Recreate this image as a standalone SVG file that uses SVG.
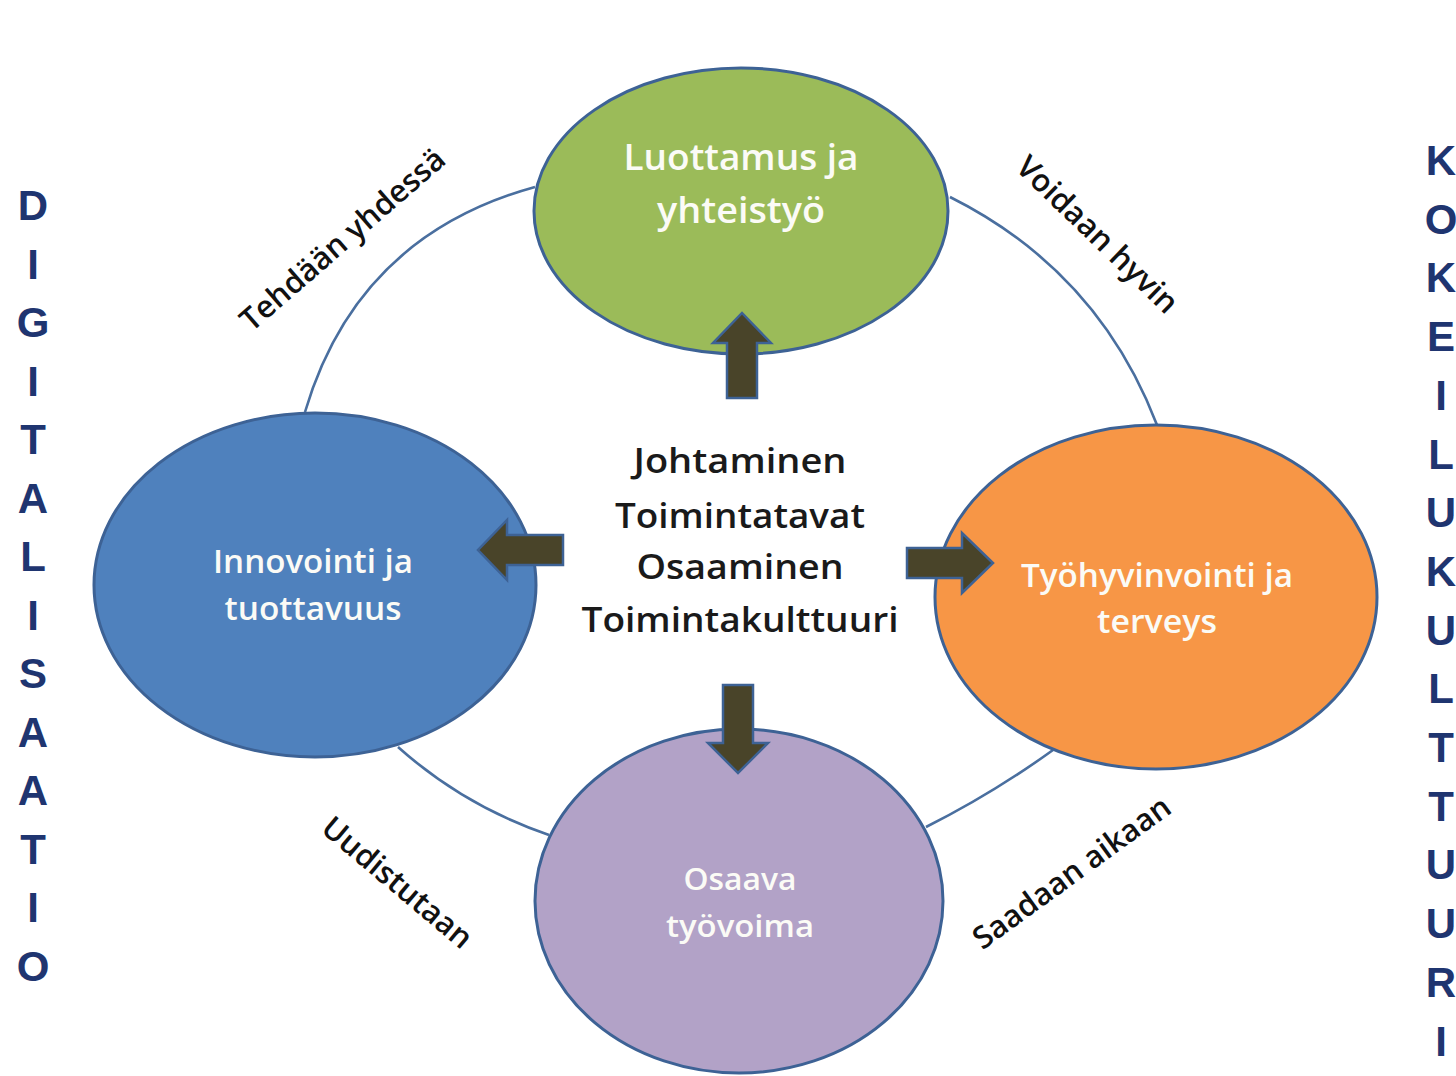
<svg xmlns="http://www.w3.org/2000/svg" width="1456" height="1076" viewBox="0 0 1456 1076">
<style>
.node ellipse{stroke:#3d6295;stroke-width:3}
.nt{font-family:"Open Sans","Liberation Sans",sans-serif;font-weight:600;fill:#fbfbf6;text-anchor:middle}
.ct{font-family:"Open Sans","Liberation Sans",sans-serif;font-weight:600;fill:#1a1a1a;text-anchor:middle;font-size:34px}
.lbl{font-family:"Open Sans","Liberation Sans",sans-serif;font-weight:600;fill:#111;text-anchor:middle;font-size:31px}
.arc{fill:none;stroke:#4a6f9f;stroke-width:2.6}
.arr{fill:#494429;stroke:#3d6295;stroke-width:2.5;stroke-linejoin:miter}
.side{font-family:"Liberation Sans",Arial,sans-serif;font-weight:700;fill:#1f3570;font-size:42px;text-anchor:middle}
</style>
<rect width="1456" height="1076" fill="#ffffff"/>
<g id="connectors">
<path class="arc" d="M535,187 Q357,236 305,412"/>
<path class="arc" d="M950,197 Q1098,271 1157,425"/>
<path class="arc" d="M398,747 Q464,806 549,835"/>
<path class="arc" d="M926,827 Q992,794 1053,750"/>
</g>
<g id="node-luottamus" class="node">
<ellipse cx="741" cy="211" rx="207" ry="143" fill="#9bbb59"/>
<text class="nt" x="741" y="170" font-size="36" textLength="235" lengthAdjust="spacingAndGlyphs">Luottamus ja</text>
<text class="nt" x="741" y="223" font-size="36" textLength="168" lengthAdjust="spacingAndGlyphs">yhteistyö</text>
</g>
<g id="node-innovointi" class="node">
<ellipse cx="315" cy="585" rx="221" ry="172" fill="#4f81bd"/>
<text class="nt" x="313" y="573" font-size="32" textLength="200" lengthAdjust="spacingAndGlyphs">Innovointi ja</text>
<text class="nt" x="313" y="620" font-size="32" textLength="177" lengthAdjust="spacingAndGlyphs">tuottavuus</text>
</g>
<g id="node-tyohyvinvointi" class="node">
<ellipse cx="1156" cy="597" rx="221" ry="172" fill="#f79646"/>
<text class="nt" x="1157" y="587" font-size="33" textLength="272" lengthAdjust="spacingAndGlyphs">Työhyvinvointi ja</text>
<text class="nt" x="1157" y="633" font-size="33" textLength="120" lengthAdjust="spacingAndGlyphs">terveys</text>
</g>
<g id="node-osaava" class="node">
<ellipse cx="739" cy="901" rx="204" ry="172" fill="#b2a2c7"/>
<text class="nt" x="740" y="890" font-size="30" textLength="113" lengthAdjust="spacingAndGlyphs">Osaava</text>
<text class="nt" x="740" y="937" font-size="30" textLength="148" lengthAdjust="spacingAndGlyphs">työvoima</text>
</g>
<g id="arrows">
<path class="arr" d="M727,398 L727,343 L713,343 L742,313 L771,343 L757,343 L757,398 Z"/>
<path class="arr" d="M563,535 L507,535 L507,520 L478,550 L507,580 L507,565 L563,565 Z"/>
<path class="arr" d="M907,548 L962,548 L962,533 L993,563 L962,593 L962,578 L907,578 Z"/>
<path class="arr" d="M723,685 L753,685 L753,743 L768,743 L738,773 L708,743 L723,743 Z"/>
</g>
<g id="center-text">
<text class="ct" x="740" y="473" textLength="213" lengthAdjust="spacingAndGlyphs">Johtaminen</text>
<text class="ct" x="740" y="528" textLength="250" lengthAdjust="spacingAndGlyphs">Toimintatavat</text>
<text class="ct" x="740" y="579" textLength="207" lengthAdjust="spacingAndGlyphs">Osaaminen</text>
<text class="ct" x="740" y="632" textLength="317" lengthAdjust="spacingAndGlyphs">Toimintakulttuuri</text>
</g>
<g id="labels">
<text class="lbl" transform="translate(343,240) rotate(-41)" y="10">Tehdään yhdessä</text>
<text class="lbl" transform="translate(1097,235) rotate(44)" y="10">Voidaan hyvin</text>
<text class="lbl" transform="translate(397,883) rotate(40)" y="10">Uudistutaan</text>
<text class="lbl" transform="translate(1072,873) rotate(-36)" y="10">Saadaan aikaan</text>
</g>
<g id="digitalisaatio">
<text class="side" x="33" y="220">D</text>
<text class="side" x="33" y="278.5">I</text>
<text class="side" x="33" y="337">G</text>
<text class="side" x="33" y="395.5">I</text>
<text class="side" x="33" y="454">T</text>
<text class="side" x="33" y="512.5">A</text>
<text class="side" x="33" y="571">L</text>
<text class="side" x="33" y="629.5">I</text>
<text class="side" x="33" y="688">S</text>
<text class="side" x="33" y="746.5">A</text>
<text class="side" x="33" y="805">A</text>
<text class="side" x="33" y="863.5">T</text>
<text class="side" x="33" y="922">I</text>
<text class="side" x="33" y="980.5">O</text>
</g>
<g id="kokeilukulttuuri">
<text class="side" x="1441" y="175">K</text>
<text class="side" x="1441" y="233.7">O</text>
<text class="side" x="1441" y="292.4">K</text>
<text class="side" x="1441" y="351.1">E</text>
<text class="side" x="1441" y="409.8">I</text>
<text class="side" x="1441" y="468.5">L</text>
<text class="side" x="1441" y="527.2">U</text>
<text class="side" x="1441" y="585.9">K</text>
<text class="side" x="1441" y="644.6">U</text>
<text class="side" x="1441" y="703.3">L</text>
<text class="side" x="1441" y="762">T</text>
<text class="side" x="1441" y="820.7">T</text>
<text class="side" x="1441" y="879.4">U</text>
<text class="side" x="1441" y="938.1">U</text>
<text class="side" x="1441" y="996.8">R</text>
<text class="side" x="1441" y="1055.5">I</text>
</g>
</svg>
